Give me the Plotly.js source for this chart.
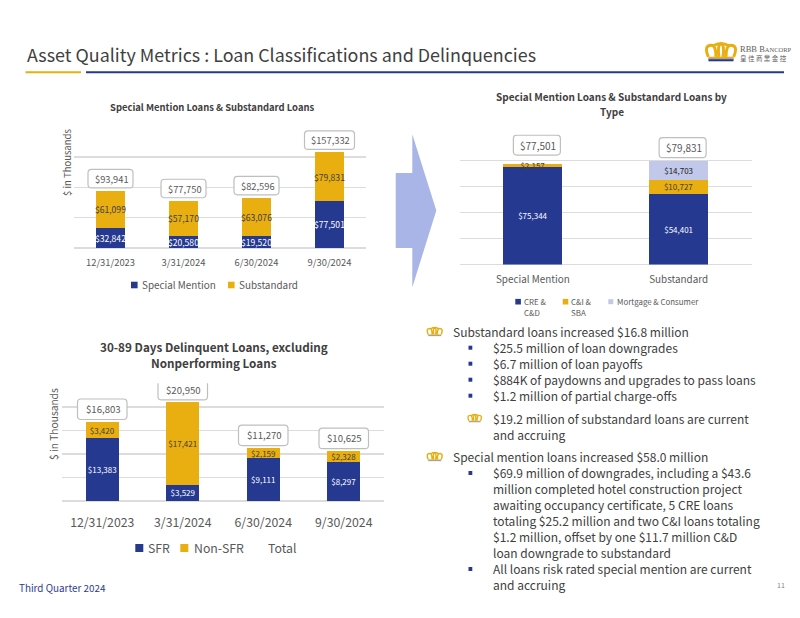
<!DOCTYPE html>
<html>
<head>
<meta charset="utf-8">
<script src="https://cdn.plot.ly/plotly-3.0.1.min.js"></script>
<style>html,body{margin:0;padding:0;background:#fff}#chart{width:800px;height:618px}</style>
</head>
<body>
<div id="chart"></div>
<script>
// ---------- data ----------
const quarters = ['12/31/2023', '3/31/2024', '6/30/2024', '9/30/2024'];
const specialMention = [32842, 20580, 19520, 77501];
const substandard = [61099, 57170, 63076, 79831];
const classifiedTotals = [93941, 77750, 82596, 157332];

const loanClasses = ['Special Mention', 'Substandard'];
const creCd = [75344, 54401];
const ciSba = [2157, 10727];
const mortgageConsumer = [null, 14703];
const typeTotals = [77501, 79831];

const sfr = [13383, 3529, 9111, 8297];
const nonSfr = [3420, 17421, 2159, 2328];
const delinquentTotals = [16803, 20950, 11270, 10625];

const bodyLines = [
  ['Substandard loans increased $16.8 million', 452.3, 331],
  ['$25.5 million of loan downgrades', 492.3, 347],
  ['$6.7 million of loan payoffs', 492.3, 363],
  ['$884K of paydowns and upgrades to pass loans', 492.3, 379],
  ['$1.2 million of partial charge-offs', 492.3, 395],
  ['$19.2 million of substandard loans are current', 492.3, 418],
  ['and accruing', 492.3, 434],
  ['Special mention loans increased $58.0 million', 452.3, 456.3],
  ['$69.9 million of downgrades, including a $43.6', 492.3, 472.3],
  ['million completed hotel construction project', 492.3, 488.3],
  ['awaiting occupancy certificate, 5 CRE loans', 492.3, 504.3],
  ['totaling $25.2 million and two C&amp;I loans totaling', 492.3, 520.3],
  ['$1.2 million, offset by one $11.7 million C&amp;D', 492.3, 536.3],
  ['loan downgrade to substandard', 492.3, 552.3],
  ['All loans risk rated special mention are current', 492.3, 568.3],
  ['and accruing', 492.3, 584.3]
];
const squareBulletRows = [347.7, 363.7, 379.7, 395.7, 473, 569];
const crownBullets = [[434.7, 332, 1], [474.7, 418.5, 0.9], [434.7, 457, 1]];

// ---------- styling ----------
const FONT = '"Noto Sans CJK SC", "Noto Sans", sans-serif';
const BLUE = '#24398f', GOLD = '#e9ae10', LIGHT = '#c1c8ea', GRID = '#dcdcdc';
const GREY = '#595959', DARK = '#404040', W = 800, H = 618;
const X = x => x / W, Y = y => 1 - y / H;
const money = v => v == null ? '' : '$' + v.toLocaleString('en-US');

const shapes = [], annotations = [];
function note(text, x, y, size, color, opts) {
  annotations.push(Object.assign({
    text, x: X(x), y: Y(y), xref: 'paper', yref: 'paper', showarrow: false,
    xanchor: 'left', yanchor: 'middle', borderpad: 0,
    font: { family: FONT, size, color }
  }, opts || {}));
}
function box(x0, y0, x1, y1, color) {
  shapes.push({ type: 'rect', xref: 'paper', yref: 'paper', x0: X(x0), x1: X(x1), y0: Y(y0), y1: Y(y1),
    fillcolor: color, line: { width: 0 } });
}
function crown(cx, cy, s) {
  const pp = (x, y) => X(cx + x * s).toFixed(5) + ',' + Y(cy + y * s).toFixed(5);
  const lobes = 'M' + pp(-6.5, 2.5) + ' Q' + pp(-9, -3.5) + ' ' + pp(-5, -3.5) + ' Q' + pp(-2.5, -3.5) + ' ' + pp(-2.6, 2.5) +
    ' M' + pp(-4, -3.2) + ' Q' + pp(0, -5.6) + ' ' + pp(4, -3.2) +
    ' M' + pp(-1, 2.5) + ' Q' + pp(-2, -3.5) + ' ' + pp(0, -4.4) + ' Q' + pp(2, -3.5) + ' ' + pp(1, 2.5) +
    ' M' + pp(6.5, 2.5) + ' Q' + pp(9, -3.5) + ' ' + pp(5, -3.5) + ' Q' + pp(2.5, -3.5) + ' ' + pp(2.6, 2.5);
  shapes.push({ type: 'path', xref: 'paper', yref: 'paper', path: lobes, line: { color: GOLD, width: 1.5 * s } });
  box(cx - 6.5 * s, cy + 2.4 * s, cx + 6.5 * s, cy + 3.5 * s, GOLD);
  box(cx - 6.5 * s, cy + 3.4 * s, cx + 6.5 * s, cy + 4.1 * s, '#6f7cb8');
}
function totalBadge(xa, ya, cat, total, w, h, up, dx, size) {
  const L = dx - w / 2, R = dx + w / 2, B = up, T = up + h, r = 3.5;
  shapes.push({
    type: 'path', xref: xa, yref: ya, xsizemode: 'pixel', ysizemode: 'pixel', xanchor: cat, yanchor: total,
    path: `M${L + r},${B} L${R - r},${B} Q${R},${B} ${R},${B + r} L${R},${T - r} Q${R},${T} ${R - r},${T} L${L + r},${T} Q${L},${T} ${L},${T - r} L${L},${B + r} Q${L},${B} ${L + r},${B} Z`,
    fillcolor: '#ffffff', line: { color: '#bfbfbf', width: 1.2 }
  });
  annotations.push({
    text: money(total), xref: xa, yref: ya, x: cat, y: total, showarrow: false, xanchor: 'center', yanchor: 'middle',
    xshift: dx + 1, yshift: up + h / 2, borderpad: 0, font: { family: FONT, size, color: GREY }
  });
}
function bar(name, x, y, color, xa, ya, size, textColor) {
  return {
    type: 'bar', name, x, y, xaxis: xa, yaxis: ya, marker: { color, line: { width: 0 } },
    text: y.map(money), textposition: 'inside', insidetextanchor: 'middle', textangle: 0,
    constraintext: 'none', cliponaxis: false,
    textfont: { family: FONT, size, color: textColor }, showlegend: false
  };
}
function yAxis(domTop, domBottom, max, dtick, anchor) {
  return { domain: [Y(domBottom), Y(domTop)], range: [0, max], dtick, anchor, showticklabels: false,
    showline: false, ticks: '', gridcolor: GRID, gridwidth: 1.4, zeroline: true, zerolinecolor: GRID, zerolinewidth: 1.6, fixedrange: true };
}
function xAxis(left, right, anchor, size, gap) {
  return { domain: [X(left), X(right)], anchor, type: 'category', showline: false, showgrid: false, zeroline: false,
    ticks: 'outside', ticklen: gap, tickcolor: 'rgba(0,0,0,0)', tickfont: { family: FONT, size, color: GREY }, fixedrange: true };
}

// ---------- traces ----------
const traces = [
  bar('Special Mention', quarters, specialMention, BLUE, 'x', 'y', 8.6, '#ffffff'),
  bar('Substandard', quarters, substandard, GOLD, 'x', 'y', 8.6, DARK),
  bar('CRE & C&D', loanClasses, creCd, BLUE, 'x2', 'y2', 8, '#ffffff'),
  bar('C&I & SBA', loanClasses, ciSba, GOLD, 'x2', 'y2', 8, DARK),
  bar('Mortgage & Consumer', loanClasses, mortgageConsumer, LIGHT, 'x2', 'y2', 8, '#1a1a1a'),
  bar('SFR', quarters, sfr, BLUE, 'x3', 'y3', 8, '#ffffff'),
  bar('Non-SFR', quarters, nonSfr, GOLD, 'x3', 'y3', 8, DARK)
];

// ---------- total badges ----------
quarters.forEach((q, i) => totalBadge('x', 'y', q, classifiedTotals[i], i === 3 ? 50 : 45, 18.5, 3, 0, 9.3));
loanClasses.forEach((c, i) => totalBadge('x2', 'y2', c, typeTotals[i], 47, 20, i === 0 ? 8.7 : 3, 4, 10));
quarters.forEach((q, i) => totalBadge('x3', 'y3', q, delinquentTotals[i], 49.5, 20.5, 2.5, 0, 9.6));

// ---------- page furniture ----------
note('Asset Quality Metrics : Loan Classifications and Delinquencies', 25.5, 53.5, 17.9, DARK);
box(25.5, 71.3, 81, 73.3, GOLD);
box(86, 71.3, 784, 73.3, BLUE);
crown(721, 52, 1.95);
box(708.5, 59.5, 733.5, 61.3, BLUE);
note('RBB B<span style="font-size:6.5px">ANCORP</span>', 739, 48.5, 8.5, '#5e5e5e', { font: { family: '"Liberation Serif", serif', size: 8.5, color: '#5e5e5e' } });
note('皇 佳 商 業 金 控', 739, 58, 6.5, '#5e5e5e', { font: { family: '"Noto Sans CJK TC", sans-serif', size: 6.5, color: '#5e5e5e' } });

// arrow between the charts
shapes.push({ type: 'path', xref: 'paper', yref: 'paper', fillcolor: '#a9b5e6', line: { width: 0 },
  path: `M${X(395.7)},${Y(173)} L${X(412.3)},${Y(173)} L${X(412.3)},${Y(134.3)} L${X(436.3)},${Y(210.5)} L${X(412.3)},${Y(287.3)} L${X(412.3)},${Y(248)} L${X(395.7)},${Y(248)} Z` });

// chart titles
const ctr = { xanchor: 'center' };
note('<b>Special Mention Loans &amp; Substandard Loans</b>', 212, 107.5, 9.45, DARK, ctr);
note('<b>Special Mention Loans &amp; Substandard Loans by</b>', 611.7, 97, 10, DARK, ctr);
note('<b>Type</b>', 611.7, 111, 10, DARK, ctr);
note('<b>30-89 Days Delinquent Loans, excluding</b>', 214, 346, 11.7, DARK, ctr);
note('<b>Nonperforming Loans</b>', 214, 362, 11.7, DARK, ctr);

// axis captions
note('$ in Thousands', 67, 163, 9.5, GREY, { xanchor: 'center', textangle: -90 });
note('$ in Thousands', 53, 424, 10.2, GREY, { xanchor: 'center', textangle: -90 });

// legends
function legendItem(x, y, size, color, label, labelX, fontSize) {
  box(x, y - size / 2, x + size, y + size / 2, color);
  note(label, labelX, y, fontSize, GREY);
}
legendItem(131, 285, 6.6, BLUE, 'Special Mention', 141, 9.9);
legendItem(228, 285, 6.6, GOLD, 'Substandard', 238, 9.9);
legendItem(515.3, 301.7, 5.6, BLUE, 'CRE &amp;', 523, 7.9);
note('C&amp;D', 523, 312.7, 7.9, GREY);
legendItem(562.7, 301.7, 5.6, GOLD, 'C&amp;I &amp;', 570, 7.9);
note('SBA', 570, 312.7, 7.9, GREY);
legendItem(608.3, 301.7, 5, LIGHT, 'Mortgage &amp; Consumer', 615.7, 7.9);
legendItem(135.3, 548, 8, BLUE, 'SFR', 147.3, 12.3);
legendItem(180.3, 548, 8, GOLD, 'Non-SFR', 193.3, 12.3);
note('Total', 267.3, 548, 12.3, GREY);

// body text
bodyLines.forEach(l => note(l[0], l[1], l[2], 12, DARK));
squareBulletRows.forEach(y => box(468.5, y - 2, 472.3, y + 2, BLUE));
crownBullets.forEach(c => crown(c[0], c[1], c[2]));

note('Third Quarter 2024', 18, 588, 9.9, '#2f3b8c');
note('11', 775.7, 585, 7, '#7f7f7f');

// ---------- layout ----------
const layout = {
  width: W, height: H, margin: { l: 0, r: 0, t: 0, b: 0 }, paper_bgcolor: '#ffffff', plot_bgcolor: 'rgba(0,0,0,0)',
  barmode: 'stack', bargap: 0.595, showlegend: false, hovermode: false,
  font: { family: FONT, color: GREY },
  xaxis: xAxis(74, 366, 'y', 9.4, 6),
  yaxis: yAxis(126.5, 248, 200000, 50000, 'x'),
  xaxis2: xAxis(460, 751.5, 'y2', 9.9, 6),
  yaxis2: yAxis(134.5, 264.5, 100000, 20000, 'x2'),
  xaxis3: xAxis(62, 384, 'y3', 12.3, 10),
  yaxis3: yAxis(383.3, 501.3, 25000, 5000, 'x3'),
  shapes, annotations
};
Plotly.newPlot('chart', traces, layout, { displayModeBar: false, staticPlot: true });
</script>
</body>
</html>
